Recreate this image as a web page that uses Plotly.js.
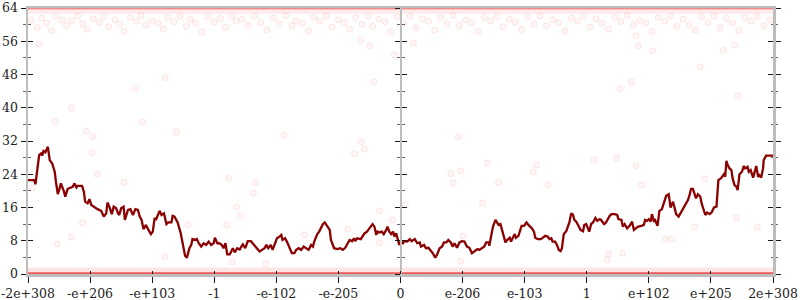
<!DOCTYPE html>
<html>
<head>
<meta charset="utf-8">
<script src="https://cdn.plot.ly/plotly-3.0.1.min.js"></script>
<style>html,body{margin:0;padding:0;background:#fff;}#chart{width:800px;height:300px;}</style>
</head>
<body>
<div id="chart"></div>
<script>
// Tick positions (ordinal index of float magnitude bands) and labels
const tickVals = [-6,-5,-4,-3,-2,-1,0,1,2,3,4,5,6];
const tickText = ['-2e+308','-e+206','-e+103','-1','-e-102','-e-205','0','e-206','e-103','1','e+102','e+205','2e+308'];

// Smoothed (moving-average) series
const lineX = [-6.00,-5.90,-5.88,-5.85,-5.82,-5.79,-5.77,-5.75,-5.72,-5.68,-5.65,-5.61,-5.57,-5.55,-5.52,-5.49,-5.47,-5.42,-5.40,-5.36,-5.32,-5.28,-5.25,-5.22,-5.20,-5.17,-5.13,-5.10,-5.08,-5.04,-5.01,-4.98,-4.93,-4.88,-4.82,-4.78,-4.74,-4.72,-4.69,-4.65,-4.62,-4.58,-4.55,-4.53,-4.50,-4.46,-4.44,-4.39,-4.35,-4.31,-4.27,-4.23,-4.20,-4.17,-4.14,-4.10,-4.06,-4.02,-3.99,-3.96,-3.94,-3.88,-3.85,-3.81,-3.77,-3.74,-3.69,-3.67,
 -3.64,-3.59,-3.54,-3.51,-3.47,-3.44,-3.40,-3.37,-3.35,-3.31,-3.28,-3.25,-3.21,-3.17,-3.13,-3.09,-3.05,-3.01,-2.99,-2.95,-2.92,-2.88,-2.85,-2.82,-2.79,-2.75,-2.73,-2.70,-2.67,-2.63,-2.59,-2.54,-2.50,-2.46,-2.41,-2.36,-2.32,-2.27,-2.23,-2.19,-2.16,-2.13,-2.09,-2.06,-2.03,-1.99,-1.95,-1.92,-1.90,-1.86,-1.83,-1.79,-1.75,-1.71,-1.68,-1.64,-1.60,-1.56,-1.52,-1.48,-1.44,-1.41,-1.39,-1.34,-1.31,-1.28,-1.25,
 -1.22,-1.18,-1.14,-1.12,-1.07,-1.02,-0.97,-0.93,-0.89,-0.85,-0.82,-0.78,-0.75,-0.73,-0.70,-0.64,-0.61,-0.58,-0.54,-0.50,-0.45,-0.42,-0.39,-0.37,-0.34,-0.30,-0.27,-0.23,-0.21,-0.18,-0.15,-0.12,-0.10,-0.07,-0.04,-0.02,0.01,0.04,0.06,0.11,0.15,0.18,0.23,0.27,0.31,0.33,0.38,0.41,0.45,0.48,0.52,0.56,0.59,0.63,0.67,0.70,0.74,0.77,0.81,0.84,0.87,0.91,0.95,0.99,1.03,1.07,1.11,1.15,1.18,
 1.19,1.24,1.27,1.31,1.35,1.38,1.42,1.43,1.46,1.49,1.53,1.56,1.58,1.61,1.63,1.66,1.69,1.72,1.76,1.78,1.81,1.84,1.86,1.90,1.93,1.95,1.99,2.03,2.06,2.11,2.15,2.17,2.21,2.26,2.29,2.33,2.37,2.40,2.43,2.45,2.49,2.52,2.55,2.58,2.60,2.63,2.67,2.70,2.72,2.75,2.78,2.80,2.83,2.86,2.90,2.94,2.96,2.99,3.02,3.04,3.07,3.10,3.14,3.17,3.21,3.23,3.28,3.31,3.37,3.40,3.45,3.49,3.51,3.56,3.58,3.61,
 3.65,3.69,3.73,3.76,3.80,3.83,3.88,3.92,3.94,3.97,4.00,4.03,4.05,4.08,4.10,4.14,4.17,4.21,4.24,4.28,4.32,4.35,4.39,4.41,4.44,4.48,4.51,4.55,4.59,4.63,4.66,4.68,4.71,4.74,4.76,4.79,4.83,4.85,4.89,4.91,4.94,4.98,5.01,5.05,5.09,5.10,5.12,5.16,5.18,5.21,5.23,5.25,5.27,5.30,5.33,5.35,5.38,5.41,5.43,5.46,5.50,5.53,5.55,5.59,5.61,5.64,5.68,5.70,5.73,5.76,5.78,5.81,5.84,5.85,5.89,5.97,6.00];
const lineY = [22.6,22.6,21.6,25.0,28.6,29.0,28.5,29.6,29.3,30.6,27.4,26.6,24.6,22.2,19.2,20.6,21.8,19.8,18.6,20.5,20.8,21.0,21.8,20.8,21.2,21.2,21.2,19.8,17.4,17.0,18.0,16.6,16.0,15.6,15.2,13.8,14.6,17.2,16.2,14.4,16.2,15.8,14.6,14.2,15.8,16.2,13.0,15.4,15.6,14.2,15.6,15.4,13.8,13.0,10.8,11.8,10.6,9.6,10.2,13.5,13.0,15.2,14.2,14.6,12.0,12.4,12.4,14.0,
 13.8,12.4,9.8,7.0,4.4,3.9,6.2,7.0,8.4,8.2,8.4,7.4,6.6,7.4,7.0,7.8,7.0,7.4,8.7,7.4,7.4,7.0,6.2,7.4,4.7,4.7,5.4,6.2,5.2,6.2,5.9,7.1,6.2,7.9,7.9,7.0,6.2,5.4,5.8,6.2,7.0,6.2,7.0,5.8,7.0,8.6,9.0,9.4,8.2,8.6,7.8,6.6,5.0,5.0,5.8,6.2,5.8,6.6,6.2,5.8,7.0,6.6,7.8,9.6,10.2,11.0,12.0,
 12.4,11.4,10.6,8.2,6.2,6.0,6.2,5.8,6.3,7.4,8.2,7.9,8.6,7.9,8.6,8.4,9.0,9.8,10.2,11.1,12.0,11.4,9.4,10.2,10.0,10.2,9.6,10.6,11.4,10.2,9.6,10.2,9.0,9.8,7.9,7.0,7.8,7.4,7.9,7.8,8.4,7.9,8.4,7.4,7.6,6.6,7.0,6.2,6.3,5.8,5.0,3.9,4.7,6.2,6.6,7.6,7.6,8.2,7.6,6.6,7.4,6.3,7.6,7.9,7.8,6.6,6.3,5.0,5.4,
 5.4,6.0,5.8,6.2,6.6,7.6,7.6,6.8,9.4,11.4,13.0,12.2,11.8,12.0,11.0,9.4,7.6,8.2,8.7,7.8,8.7,9.6,8.7,9.2,10.6,11.6,11.6,12.4,11.8,11.1,10.2,8.7,8.4,8.4,8.7,9.2,9.0,8.4,8.6,7.8,7.8,7.0,5.8,5.5,6.2,9.6,10.3,11.8,12.4,14.6,14.2,13.0,12.6,11.8,10.6,10.3,11.8,12.0,11.0,10.2,12.0,12.4,13.5,12.8,13.2,13.0,12.0,12.4,14.0,14.4,14.4,14.2,13.2,13.0,11.4,12.0,
 11.0,11.6,12.6,10.6,11.1,11.4,11.6,11.8,13.0,12.8,13.2,12.6,14.4,12.8,13.0,11.6,15.2,15.6,17.0,18.8,19.2,16.0,17.4,16.0,14.4,13.8,14.6,15.6,17.0,17.8,19.2,20.5,20.5,18.8,18.2,19.2,18.6,17.0,15.4,14.2,14.8,14.4,14.8,16.0,16.2,19.7,22.6,23.0,23.4,24.0,23.4,27.2,26.2,25.4,25.0,23.0,21.4,21.0,20.2,24.0,24.6,26.0,25.4,25.8,24.6,25.0,23.2,24.6,26.0,23.4,23.8,23.2,25.4,27.4,28.5,28.5,28.5];

// Individual samples (faint dots): sparse cloud just below the top
const dotTopX = [-5.95,-5.85,-5.78,-5.70,-5.62,-5.55,-5.45,-5.38,-5.30,-5.20,-5.12,-5.05,-4.95,-4.85,-4.78,-4.70,-4.60,-4.52,-4.45,-4.35,-4.25,-4.18,-4.10,-4.00,-3.90,-3.82,-3.75,-3.65,-3.55,-3.45,-3.38,-3.30,-3.20,-3.10,-3.00,-2.90,-2.82,-2.72,-2.65,-2.55,-2.45,-2.35,-2.25,-2.15,-2.05,-1.95,-1.85,-1.75,-1.68,-1.58,-1.48,-1.40,-1.30,-1.20,-1.10,-1.00,-0.90,-0.82,-0.72,-0.62,-0.52,-0.45,-0.35,-0.25,-0.15,-0.05,
 0.05,0.15,0.25,0.35,0.45,0.55,0.65,0.75,0.85,0.95,1.05,1.15,1.25,1.35,1.45,1.55,1.65,1.75,1.85,1.95,2.05,2.15,2.25,2.35,2.45,2.55,2.65,2.75,2.85,2.95,3.05,3.15,3.25,3.35,3.45,3.55,3.65,3.75,3.85,3.95,4.05,4.15,4.25,4.35,4.45,4.55,4.65,4.75,4.85,4.95,5.05,5.15,5.25,5.35,5.45,5.55,5.65,5.75,5.85,5.95];
const dotTopY = [61.0,59.3,61.6,60.4,58.6,62.0,61.1,59.8,60.9,62.1,60.2,58.9,61.4,60.6,62.0,59.5,61.2,60.1,58.4,61.7,60.8,62.2,59.9,61.0,60.3,58.9,61.8,60.7,62.0,59.6,61.3,60.4,58.2,61.9,60.6,61.5,59.3,62.1,60.8,61.3,59.9,62.0,60.5,58.7,61.6,60.2,62.2,59.7,61.0,60.3,58.5,61.8,60.9,62.0,59.4,61.2,60.5,58.9,61.7,60.1,62.1,59.6,61.3,60.7,58.3,61.9,
 60.4,62.0,59.3,61.4,60.8,58.7,61.7,60.2,62.2,59.8,61.1,60.4,58.4,61.8,60.9,62.0,59.5,61.3,60.6,58.8,61.9,60.2,62.1,59.7,61.2,60.5,58.5,61.6,60.9,62.0,59.4,61.4,60.3,58.9,61.8,60.7,62.2,59.9,61.0,60.4,58.3,61.7,60.8,62.0,59.6,61.3,60.1,58.7,61.9,60.6,62.1,59.3,61.5,60.4,58.6,61.7,60.9,62.0,59.8,61.2];

// Individual samples scattered through the middle of the range
const dotMidX = [-5.82,-3.79,-4.27,-5.30,-5.57,-4.16,-5.06,-4.96,-3.61,-4.97,-4.88,-4.45,-5.93,-5.12,-5.30,-5.53,-3.79,-3.43,-2.77,-2.34,-2.37,-2.64,-2.58,-2.80,-1.55,-0.34,-0.13,-0.74,-2.71,-2.17,-0.34,-1.87,-0.63,-0.58,-0.85,
 1.40,2.19,2.14,0.81,0.97,0.85,1.58,2.37,3.11,1.32,0.08,1.01,0.97,0.93,3.48,3.79,3.88,4.90,5.41,4.74,4.27,4.37,3.35,3.58,3.33,5.75,3.79,3.83,4.06,5.20,5.38,4.83,3.72,3.53,5.43,-0.64,-0.50,0.21,-0.43,-0.10];
const dotMidY = [55.3,47.2,44.7,39.9,36.8,36.6,34.4,33.1,34.2,29.2,24.0,22.1,20.7,12.3,8.9,7.2,4.1,11.8,23.1,21.9,19.5,16.1,14.0,11.8,9.4,15.2,13.0,28.9,2.9,2.4,7.5,33.4,31.8,30.1,10.8,
 26.7,26.2,24.5,24.1,24.8,21.9,22.1,21.4,27.4,17.1,16.6,9.1,3.1,33.0,27.9,26.0,21.4,22.9,13.5,11.3,8.4,8.4,4.8,5.0,3.4,11.3,57.3,54.9,53.7,53.9,55.1,49.8,46.2,44.5,42.8,56.3,54.9,55.6,46.2,52.7];

// Dense clusters of samples at the extremes (0 and 64)
const bandX = [-6, 6];
const bandBottomY = [0.1, 0.1];
const bandBottomHaloY = [0.85, 0.85];
const bandTopY = [63.95, 63.95];
const bandTopHaloY = [63.1, 63.1];

const font = {family: '"DejaVu Serif", "Liberation Serif", serif', size: 12.5, color: '#222'};
const dotStyle = {size: 6, color: 'rgba(255,80,80,0.05)', line: {color: 'rgba(255,0,0,0.09)', width: 1}};

function yAx(ticks, extra) {
  return Object.assign({
    range: [0, 64], fixedrange: true, showgrid: false, zeroline: false,
    showline: true, linecolor: '#bdbdbd', linewidth: 2.5,
    tickmode: 'linear', tick0: 0, dtick: 8, ticks: ticks, ticklen: 5, tickwidth: 1, tickcolor: '#1a1a1a',
    minor: {dtick: 4, ticks: ticks, ticklen: 2.5, tickwidth: 1, tickcolor: '#666', showgrid: false},
    showticklabels: false, tickfont: font
  }, extra);
}

const traces = [
  {x: dotTopX, y: dotTopY, mode: 'markers', marker: dotStyle, hoverinfo: 'skip', showlegend: false},
  {x: dotMidX, y: dotMidY, mode: 'markers', marker: dotStyle, hoverinfo: 'skip', showlegend: false},
  {x: bandX, y: bandBottomHaloY, mode: 'lines', line: {color: 'rgba(255,90,90,0.16)', width: 6}, hoverinfo: 'skip', showlegend: false},
  {x: bandX, y: bandBottomY, mode: 'lines', line: {color: 'rgba(232,40,40,0.75)', width: 2.5}, hoverinfo: 'skip', showlegend: false},
  {x: bandX, y: bandTopHaloY, mode: 'lines', line: {color: 'rgba(255,90,90,0.12)', width: 4}, hoverinfo: 'skip', showlegend: false},
  {x: bandX, y: bandTopY, mode: 'lines', line: {color: 'rgba(232,40,40,0.55)', width: 2.5}, hoverinfo: 'skip', showlegend: false},
  {x: lineX, y: lineY, mode: 'lines', line: {color: '#8b0000', width: 2.3}, hoverinfo: 'skip', showlegend: false},
  {x: [], y: [], yaxis: 'y2', hoverinfo: 'skip', showlegend: false},
  {x: [], y: [], yaxis: 'y3', hoverinfo: 'skip', showlegend: false},
  {x: [], y: [], yaxis: 'y4', hoverinfo: 'skip', showlegend: false},
  {x: [], y: [], yaxis: 'y5', hoverinfo: 'skip', showlegend: false},
  {x: [], y: [], yaxis: 'y6', hoverinfo: 'skip', showlegend: false},
  {x: [], y: [], xaxis: 'x2', hoverinfo: 'skip', showlegend: false}
];

const layout = {
  width: 800, height: 300,
  margin: {l: 28, r: 27, t: 8, b: 26},
  paper_bgcolor: '#fff', plot_bgcolor: '#fff',
  showlegend: false,
  font: font,
  xaxis: {
    range: [-6, 6], fixedrange: true, showgrid: false, zeroline: false,
    tickmode: 'array', tickvals: tickVals, ticktext: tickText,
    ticks: 'outside', ticklen: 6, tickwidth: 1, tickcolor: '#1a1a1a',
    showline: true, linecolor: '#bdbdbd', linewidth: 2.5, mirror: true,
    tickfont: font
  },
  xaxis2: {
    overlaying: 'x', anchor: 'y', range: [-6, 6], fixedrange: true, showgrid: false, zeroline: false,
    tickmode: 'array', tickvals: tickVals, ticks: 'inside', ticklen: 3, tickwidth: 1, tickcolor: '#1a1a1a',
    showline: false, showticklabels: false
  },
  yaxis: yAx('outside', {showticklabels: true}),
  yaxis2: yAx('inside', {overlaying: 'y', anchor: 'x', side: 'left'}),
  yaxis3: yAx('outside', {overlaying: 'y', anchor: 'free', position: 0.5, side: 'left'}),
  yaxis4: yAx('inside', {overlaying: 'y', anchor: 'free', position: 0.5, side: 'left'}),
  yaxis5: yAx('outside', {overlaying: 'y', anchor: 'x', side: 'right'}),
  yaxis6: yAx('inside', {overlaying: 'y', anchor: 'x', side: 'right'})
};

Plotly.newPlot('chart', traces, layout, {displayModeBar: false, staticPlot: true});
</script>
</body>
</html>
